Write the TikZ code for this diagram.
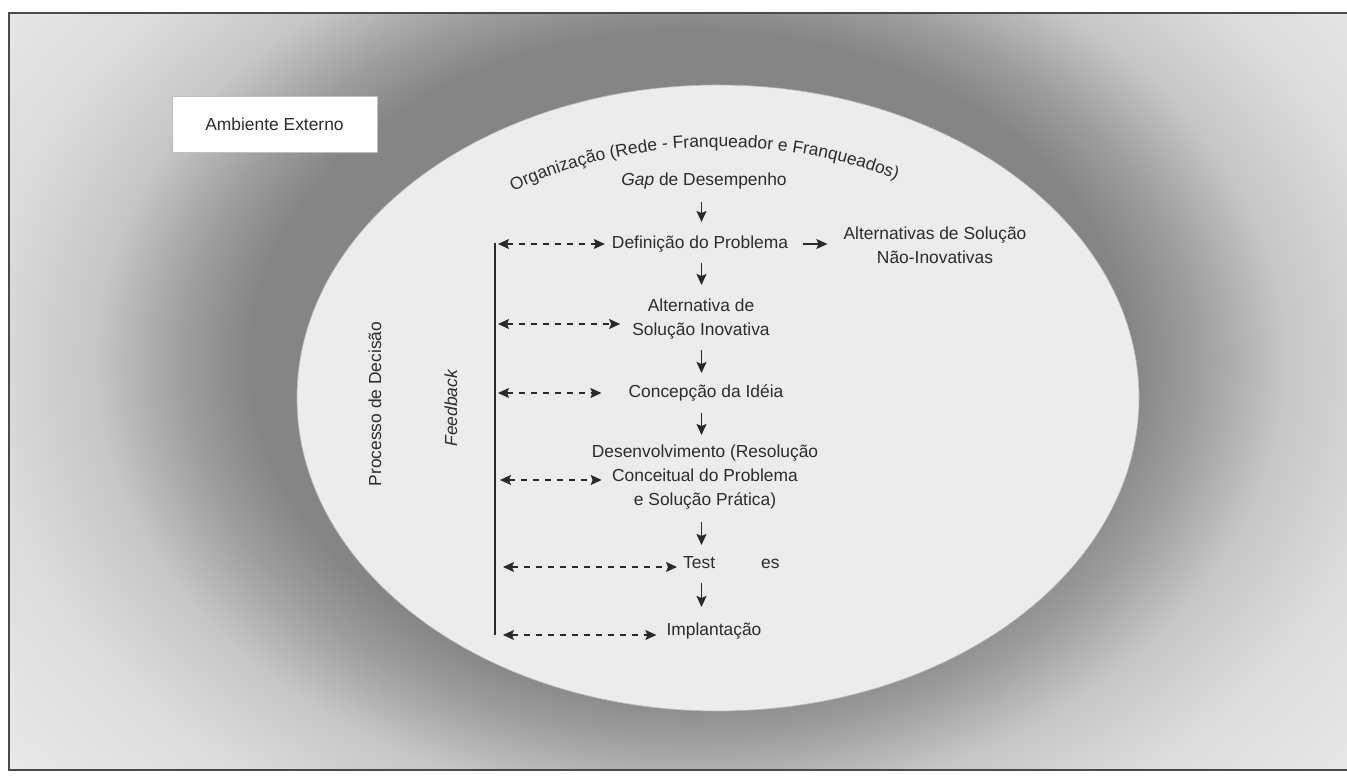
\documentclass[tikz,border=0pt]{standalone}
\usepackage{fontspec}
\setmainfont{Liberation Sans}
\usetikzlibrary{arrows.meta,decorations.text,calc}
\definecolor{txt}{HTML}{2C2C2C}
\definecolor{ln}{HTML}{2A2A2A}
\definecolor{framec}{HTML}{4A4A4A}
\definecolor{inner}{HTML}{ECECEC}
\definecolor{hA}{HTML}{858585}
\definecolor{hB}{HTML}{9E9E9E}
\definecolor{hC}{HTML}{C6C6C6}
\definecolor{hD}{HTML}{DCDCDC}
\definecolor{hE}{HTML}{EAEAEA}
\pgfdeclareradialshading{halo}{\pgfpoint{0bp}{0bp}}{color(0bp)=(hA); color(12.5bp)=(hA); color(14.4bp)=(hB); color(16.9bp)=(hC); color(20bp)=(hD); color(25bp)=(hE); color(50bp)=(hE)}
\begin{document}
\begin{tikzpicture}[x=1pt,y=1pt,
  lbl/.style={text=txt, font=\fontsize{17.4}{24}\selectfont, inner sep=2pt, align=center},
  ambbox/.style={lbl, fill=white, draw=gray!50, line width=0.6pt, minimum width=205pt, minimum height=56pt},
  tip/.tip={Stealth[length=11pt,width=10pt,inset=2pt]},
  darr/.style={draw=ln, line width=1.6pt, -tip},
  fbarr/.style={draw=ln, line width=1.1pt, dash pattern=on 6pt off 6pt, tip-tip},
  vln/.style={draw=ln, line width=2.8pt}
]
\useasboundingbox (0,0) rectangle (1347,776);
\fill[white] (0,0) rectangle (1347,776);
\begin{scope}
  \clip (9,6) rectangle (1347,763);
  \shade[shading=halo] (-190,-244) rectangle (1570,1076);
\end{scope}
\draw[line width=2pt, draw=framec] (1360,763) -- (9,763) -- (9,6) -- (1360,6);

% organisation ellipse
\filldraw[fill=inner, draw=gray!55, line width=0.6pt] (718,378) ellipse [x radius=421pt, y radius=313pt];

% external environment
\node[ambbox] (amb) at (274.5,652) {Ambiente Externo};

% curved title
\path[decorate, decoration={text along path, text align=left, text color=txt,
  text={|\fontsize{17.4}{20}\selectfont|Organização (Rede - Franqueador e Franqueados)}}]
  (718,378) ++(124.6:361pt and 251pt) arc[start angle=124.6, end angle=40, x radius=361pt, y radius=251pt];

% process nodes
\node[lbl] (gap) at (704,595) {\textit{Gap} de Desempenho};
\node[lbl] (def) at (700,532) {Definição do Problema};
\node[lbl] (alts) at (935,531) {Alternativas de Solução\\Não-Inovativas};
\node[lbl] (alt) at (701,456.5) {Alternativa de\\Solução Inovativa};
\node[lbl] (conc) at (706,383) {Concepção da Idéia};
\node[lbl] (dev) at (705,299) {Desenvolvimento (Resolução\\Conceitual do Problema\\e Solução Prática)};
\node[lbl, anchor=west] (test) at (681,213) {Test\hspace{46pt}es};
\node[lbl] (impl) at (714,145) {Implantação};
\node[lbl, rotate=90] (proc) at (375,372) {Processo de Decisão};
\node[lbl, rotate=90] (fb) at (451,368) {\textit{Feedback}};

% vertical flow arrows
\coordinate (colx) at (701.5,0);
\draw[darr, shorten <=21pt, shorten >=22pt] (gap.center -| colx) -- (def.center -| colx);
\draw[darr, shorten <=19pt, shorten >=34.5pt] (def.center -| colx) -- (alt.center -| colx);
\draw[darr, shorten <=30.5pt, shorten >=20pt] (alt.center -| colx) -- (conc.center -| colx);
\draw[darr, shorten <=20pt, shorten >=42pt] (conc.center -| colx) -- (dev.center -| colx);
\draw[darr, shorten <=45pt, shorten >=18pt] (dev.center -| colx) -- (test.center -| colx);
\draw[darr, shorten <=20pt, shorten >=24pt] (test.center -| colx) -- (impl.center -| colx);

% to non-innovative alternatives
\draw[darr, shorten <=13pt, shorten >=14pt] (def.east) -- (def.east -| alts.west);

% feedback line
\coordinate (ltop) at (495,533);
\coordinate (lbot) at (495,141);
\draw[vln] (ltop) -- (lbot);

\coordinate (f1) at (498,532);
\coordinate (f2) at (498,452);
\coordinate (f3) at (498,383);
\coordinate (f4) at (500,296);
\coordinate (f5) at (503,209);
\coordinate (f6) at (503,141);
\draw[fbarr, shorten >=5pt] (f1) -- (f1 -| def.west);
\draw[fbarr, shorten >=10pt] (f2) -- (f2 -| alt.west);
\draw[fbarr, shorten >=25pt] (f3) -- (f3 -| conc.west);
\draw[fbarr, shorten >=-12pt] (f4) -- (f4 -| dev.west);
\draw[fbarr, shorten >=4pt] (f5) -- (f5 -| test.west);
\draw[fbarr, shorten >=8pt] (f6) -- (f6 -| impl.west);
\end{tikzpicture}
\end{document}
